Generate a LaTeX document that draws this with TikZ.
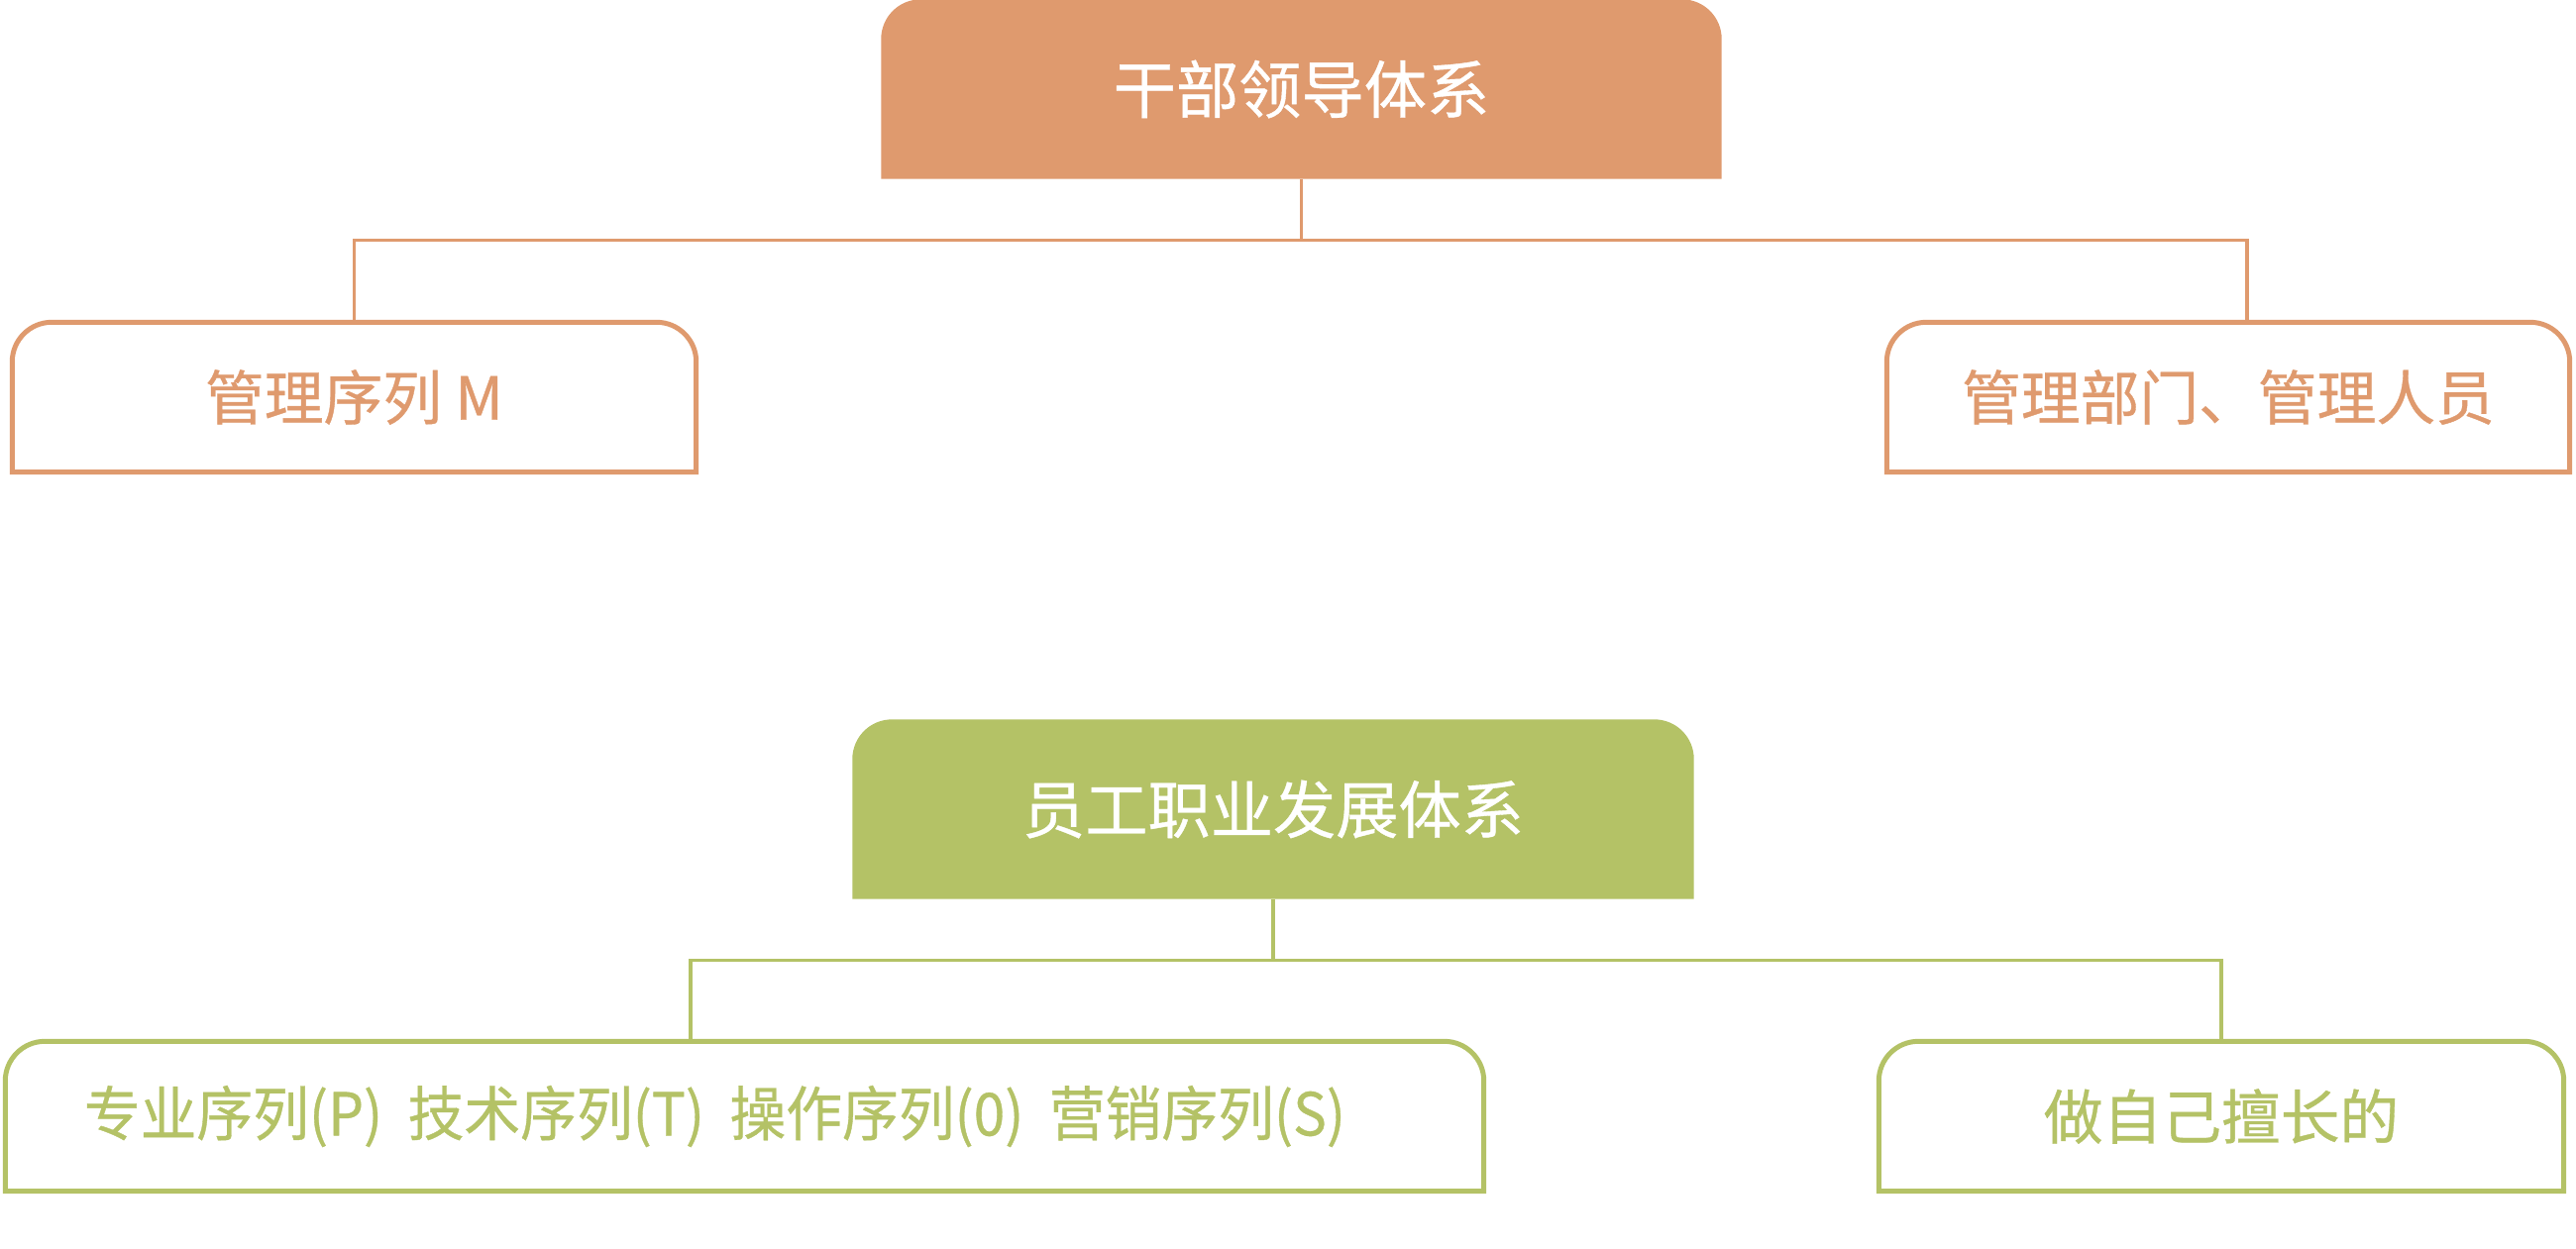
\documentclass[tikz,border=0pt]{standalone}
\usepackage{fontspec}
\usepackage{graphicx}
\usepackage{tikz}
\usetikzlibrary{backgrounds}
\newfontfamily\cjk[FakeBold=0.6]{Noto Sans CJK SC}
\definecolor{cadreorange}{HTML}{DF9A6E}
\definecolor{careergreen}{HTML}{B4C266}
\newcommand{\tabbox}[2]{%
  \path[#1] (#2.south west) -- ([yshift=-4mm]#2.north west)
    arc[start angle=180,end angle=90,radius=4mm] -- ([xshift=-4mm]#2.north east)
    arc[start angle=90,end angle=0,radius=4mm] -- (#2.south east) -- cycle;}

\begin{document}
\begin{tikzpicture}[
    head/.style={inner sep=0pt,minimum height=1.8cm,text=white,
      font=\cjk\fontsize{18pt}{18pt}\selectfont},
    leaf/.style={inner sep=0pt,minimum height=1.5cm,
      font=\cjk\fontsize{17pt}{17pt}\selectfont},
    link/.style={line width=0.033cm}]
    \useasboundingbox (0,0) rectangle (26,-12.6);
    \node[head,minimum width=8.47cm] (cadre) at (13.135,-0.9) {干部领导体系};
    \node[leaf,minimum width=6.89cm,text=cadreorange] (seqM) at (3.575,-4.01) {管理序列 M};
    \node[leaf,minimum width=6.88cm,text=cadreorange] (mgmt) at (22.49,-4.01) {管理部门、管理人员};
    \node[head,minimum width=8.48cm] (career) at (12.85,-8.17) {员工职业发展体系};
    \node[leaf,minimum width=14.91cm,text=careergreen] (seqs) at (7.515,-11.27)
      {\scalebox{.95}[1]{专业序列(P)\ \ 技术序列(T)\ \ 操作序列(0)\ \ 营销序列(S)}\hspace*{.6cm}};
    \node[leaf,minimum width=6.9cm,text=careergreen] (strength) at (22.42,-11.27) {做自己擅长的};
    \begin{pgfonlayer}{background}
      \tabbox{fill=cadreorange}{cadre}
      \tabbox{draw=cadreorange,line width=0.05cm}{seqM}
      \tabbox{draw=cadreorange,line width=0.05cm}{mgmt}
      \tabbox{fill=careergreen}{career}
      \tabbox{draw=careergreen,line width=0.05cm}{seqs}
      \tabbox{draw=careergreen,line width=0.05cm}{strength}
    \end{pgfonlayer}
    \draw[link,cadreorange] (cadre.south) -- ++(0,-0.615) coordinate (ojoin) -| (seqM.north);
    \draw[link,cadreorange] (ojoin) -| ([xshift=0.19cm]mgmt.north);
    \draw[link,careergreen] (career.south) -- ++(0,-0.62) coordinate (gjoin) -| ([xshift=-0.545cm]seqs.north);
    \draw[link,careergreen] (gjoin) -| (strength.north);
  \end{tikzpicture}
\end{document}
